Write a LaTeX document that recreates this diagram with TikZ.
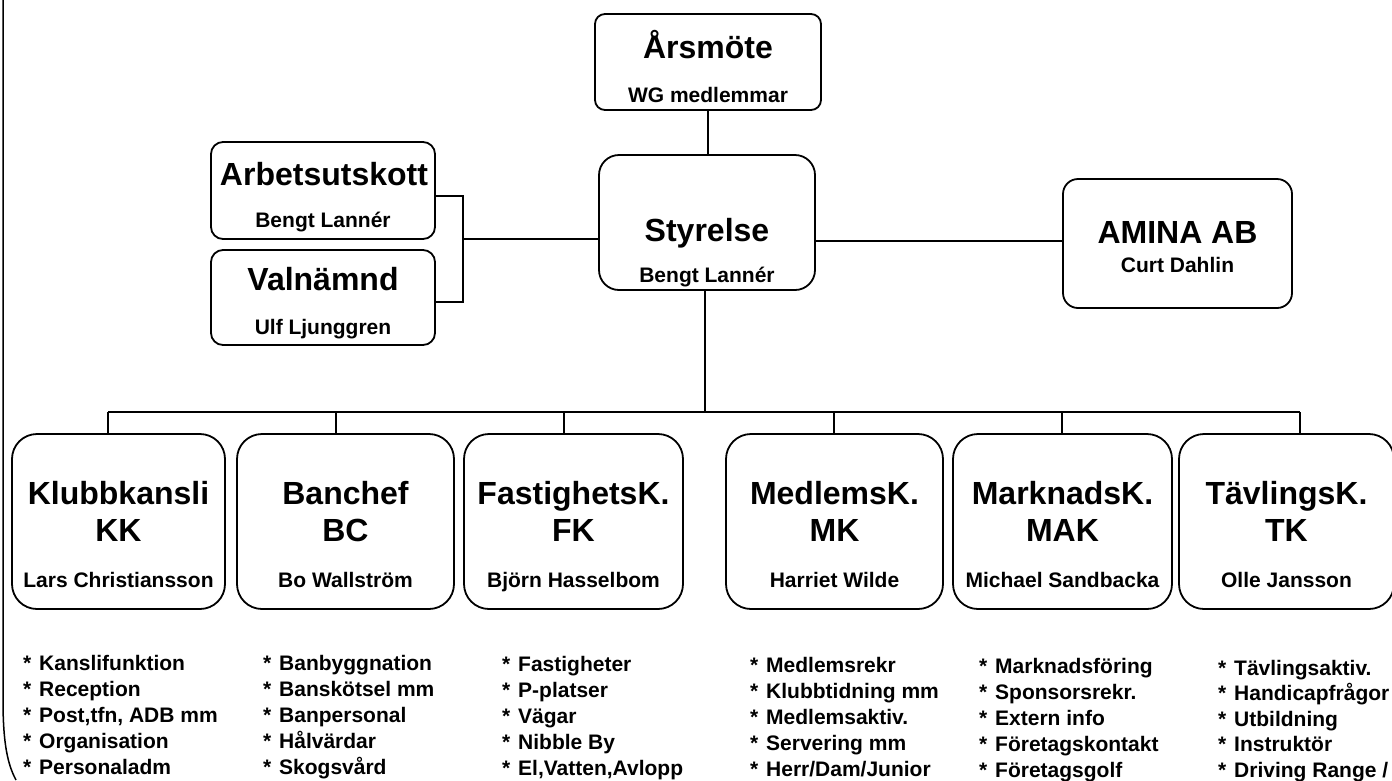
\documentclass[tikz,border=0pt]{standalone}
\usepackage{fontspec}
\setmainfont{Liberation Sans}
\newcommand{\bstar}{\makebox[16pt][l]{*}}
\begin{document}
\begin{tikzpicture}[x=1pt,y=-1pt,
  box/.style={draw, line width=1.8pt, rounded corners=#1, inner sep=0pt},
  conn/.style={line width=1.4pt},
  ttl/.style={font=\fontsize{32}{36}\selectfont\bfseries, anchor=base, inner sep=0pt},
  nm/.style={font=\fontsize{21}{24}\selectfont\bfseries, anchor=base, inner sep=0pt},
  bl/.style={font=\fontsize{21}{24}\selectfont\bfseries, anchor=base west, inner sep=0pt}]
\useasboundingbox (0,0) rectangle (1392,780);

% page border (scan edge)
\draw[line width=1.5pt] (3,0) -- (3,700) .. controls (3,745) and (8,765) .. (16,780);

% upper boxes
\node[box=10pt, minimum width=226pt, minimum height=96pt] (ars) at (708,62) {};
\node[box=20pt, minimum width=216pt, minimum height=135pt] (sty) at (707,222.5) {};
\node[box=12pt, minimum width=224pt, minimum height=97pt] (arb) at (323,190.5) {};
\node[box=12pt, minimum width=224pt, minimum height=95pt] (val) at (323,297.5) {};
\node[box=15pt, minimum width=229pt, minimum height=129pt] (ami) at (1177.5,243.5) {};

\node[ttl] (ars-t) at (708,58.5) {Årsmöte};
\node[nm]  (ars-s) at (708,102.5) {WG medlemmar};
\node[ttl] (sty-t) at (707,241.5) {Styrelse};
\node[nm]  (sty-s) at (707,282.5) {Bengt Lannér};
\node[ttl] (arb-t) at (324,185.5) {Arbetsutskott};
\node[nm]  (arb-s) at (323,227.5) {Bengt Lannér};
\node[ttl] (val-t) at (323,290.5) {Valnämnd};
\node[nm]  (val-s) at (323,334.5) {Ulf Ljunggren};
\node[ttl] (ami-t) at (1177.5,243.5) {AMINA AB};
\node[nm]  (ami-s) at (1177.5,272.5) {Curt Dahlin};

% lower boxes
\foreach \n/\cx/\w/\a/\b/\p in {
  kk/118.5/213/Klubbkansli/KK/Lars Christiansson,
  bc/345.5/217/Banchef/BC/Bo Wallström,
  fk/573.5/219/FastighetsK./FK/Björn Hasselbom,
  mk/834.5/217/MedlemsK./MK/Harriet Wilde,
  mak/1062.5/219/MarknadsK./MAK/Michael Sandbacka,
  tk/1286.5/215/TävlingsK./TK/Olle Jansson}{
  \node[box=25pt, minimum width=\w pt, minimum height=175pt] (\n) at (\cx,521.5) {};
  \node[ttl] (\n-t1) at (\cx,504) {\a};
  \node[ttl] (\n-t2) at (\cx,541) {\b};
  \node[nm]  (\n-s)  at (\cx,587) {\p};
}

% connectors upper
\draw[conn] (ars.south) -- (ars.south |- sty.north);
\coordinate (b1) at (463,196);
\coordinate (b2) at (463,302);
\coordinate (b3) at (463,239);
\draw[conn] (arb.east |- b1) -- (b1) -- (b2) -- (val.east |- b2);
\draw[conn] (sty.west |- b3) -- (b3);
\coordinate (a1) at (1000,241);
\draw[conn] (sty.east |- a1) -- (ami.west |- a1);

% bus
\coordinate (bus) at (705,412);
\coordinate (d1) at (108,412);
\coordinate (d2) at (336,412);
\coordinate (d3) at (564,412);
\coordinate (d4) at (834,412);
\coordinate (d5) at (1062,412);
\coordinate (d6) at (1300,412);
\draw[conn] (sty.south -| bus) -- (bus);
\draw[conn] (d1) -- (d6);
\draw[conn] (d1) -- (d1 |- kk.north);
\draw[conn] (d2) -- (d2 |- bc.north);
\draw[conn] (d3) -- (d3 |- fk.north);
\draw[conn] (d4) -- (d4 |- mk.north);
\draw[conn] (d5) -- (d5 |- mak.north);
\draw[conn] (d6) -- (d6 |- tk.north);

% bullet lists
\foreach \t [count=\i] in {Kanslifunktion,Reception,{Post,tfn, ADB mm},Organisation,Personaladm}
  \node[bl] (la\i) at (23,{670.5+26*(\i-1)}) {\bstar\t};
\foreach \t [count=\i] in {Banbyggnation,Banskötsel mm,Banpersonal,Hålvärdar,Skogsvård}
  \node[bl] (lb\i) at (263,{670.5+26*(\i-1)}) {\bstar\t};
\foreach \t [count=\i] in {Fastigheter,P-platser,Vägar,Nibble By,{El,Vatten,Avlopp}}
  \node[bl] (lc\i) at (502,{671+26*(\i-1)}) {\bstar\t};
\foreach \t [count=\i] in {Medlemsrekr,Klubbtidning mm,Medlemsaktiv.,Servering mm,Herr/Dam/Junior}
  \node[bl] (ld\i) at (750,{672+26*(\i-1)}) {\bstar\t};
\foreach \t [count=\i] in {Marknadsföring,Sponsorsrekr.,Extern info,Företagskontakt,Företagsgolf}
  \node[bl] (le\i) at (979,{673+26*(\i-1)}) {\bstar\t};
\foreach \t [count=\i] in {Tävlingsaktiv.,Handicapfrågor,Utbildning,Instruktör,{Driving Range /}}
  \node[bl] (lf\i) at (1218,{675+25.5*(\i-1)}) {\bstar\t};
\end{tikzpicture}
\end{document}
